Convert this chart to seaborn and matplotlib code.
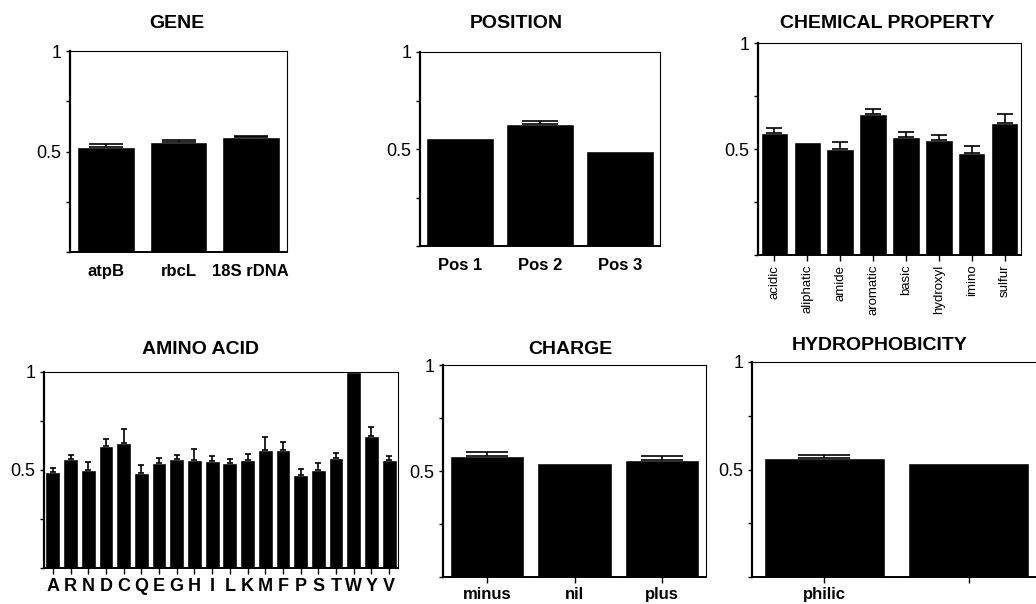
import matplotlib
matplotlib.use("Agg")
import matplotlib.pyplot as plt
import seaborn as sns

# values (bar height, upper error)
gene_names = ["atpB", "rbcL", "18S rDNA"]
gene_vals = [0.524, 0.546, 0.571]
gene_err = [0.012, 0.013, 0.005]

pos_names = ["Pos 1", "Pos 2", "Pos 3"]
pos_vals = [0.559, 0.631, 0.490]
pos_err = [0.0, 0.013, 0.0]

chem_names = ["acidic", "aliphatic", "amide", "aromatic", "basic", "hydroxyl", "imino", "sulfur"]
chem_vals = [0.575, 0.535, 0.501, 0.665, 0.557, 0.542, 0.482, 0.624]
chem_err = [0.026, 0.0, 0.034, 0.025, 0.024, 0.025, 0.030, 0.043]

aa_names = list("ARNDCQEGHILKMFPSTWYV")
aa_vals = [0.492, 0.558, 0.500, 0.624, 0.637, 0.485, 0.537, 0.558, 0.551, 0.544,
           0.537, 0.549, 0.602, 0.603, 0.473, 0.500, 0.559, 1.0, 0.676, 0.551]
aa_err = [0.020, 0.017, 0.039, 0.034, 0.071, 0.042, 0.026, 0.018, 0.056, 0.025,
          0.017, 0.034, 0.064, 0.041, 0.030, 0.034, 0.026, 0.0, 0.041, 0.022]

charge_names = ["minus", "nil", "plus"]
charge_vals = [0.573, 0.539, 0.553]
charge_err = [0.016, 0.0, 0.020]

hydro_names = ["philic", "phobic"]
hydro_labels = ["philic", ""]  # second label is not visible in the figure
hydro_vals = [0.552, 0.530]
hydro_err = [0.017, 0.0]

sns.set_style("white")
plt.rcParams["font.family"] = ["Liberation Sans", "DejaVu Sans"]
plt.rcParams["text.color"] = "black"
plt.rcParams["xtick.color"] = "black"
plt.rcParams["ytick.color"] = "black"
plt.rcParams["axes.labelcolor"] = "black"

W, H = 1036, 604
fig = plt.figure(figsize=(W / 100, H / 100), dpi=100)


def px_axes(l, t, r, b):
    return fig.add_axes([l / W, 1 - b / H, (r - l) / W, (b - t) / H])


def panel(ax, names, vals, errs, width, cap, xticks=True):
    sns.barplot(x=names, y=vals, color="black", saturation=1, width=width,
                errorbar=None, ax=ax)
    xs = [i for i, e in enumerate(errs) if e > 0]
    ax.errorbar(xs, [vals[i] for i in xs],
                yerr=[[0] * len(xs), [errs[i] for i in xs]],
                fmt="none", ecolor="black", elinewidth=1.2, capsize=cap, capthick=1.2)
    ax.set_ylim(0, 1)
    ax.set_xlim(-0.5, len(names) - 0.5)
    ax.set_yticks([0, 0.25, 0.5, 0.75, 1])
    ax.set_yticklabels(["", "", "0.5", "", "1"], fontsize=13)
    ax.set_xlabel("")
    ax.set_ylabel("")
    for s in ax.spines.values():
        s.set_visible(True)
        s.set_color("black")
        s.set_linewidth(0.8)
    ax.spines["left"].set_linewidth(1.6)
    ax.spines["bottom"].set_linewidth(1.4)
    ax.tick_params(axis="y", left=True, direction="out", length=3, width=1, pad=3)
    if xticks:
        ax.tick_params(axis="x", bottom=True, direction="out", length=4, width=1, pad=3)
    else:
        ax.tick_params(axis="x", bottom=False, pad=5)


# GENE
ax = px_axes(70, 51, 287, 252)
panel(ax, gene_names, gene_vals, gene_err, 0.8, 12, xticks=False)
ax.set_xticks(range(3), gene_names, fontsize=12, fontweight="bold")
fig.text(177 / W, 1 - 24 / H, "GENE", ha="center", va="center", fontsize=14, fontweight="bold")

# POSITION
ax = px_axes(420, 52, 660, 246)
panel(ax, pos_names, pos_vals, pos_err, 0.86, 13, xticks=False)
ax.set_xticks(range(3), pos_names, fontsize=12, fontweight="bold")
fig.text(516 / W, 1 - 23 / H, "POSITION", ha="center", va="center", fontsize=14, fontweight="bold")

# CHEMICAL PROPERTY
ax = px_axes(758, 43, 1021, 255)
panel(ax, chem_names, chem_vals, chem_err, 0.84, 6)
ax.set_xticks(range(8), chem_names, rotation=90, fontsize=9.5)
fig.text(887 / W, 1 - 23 / H, "CHEMICAL PROPERTY", ha="center", va="center", fontsize=14, fontweight="bold")

# AMINO ACID
ax = px_axes(44, 372, 398, 568)
panel(ax, aa_names, aa_vals, aa_err, 0.84, 2.2)
ax.set_xticks(range(20), aa_names, fontsize=13, fontweight="bold")
fig.text(200 / W, 1 - 349 / H, "AMINO ACID", ha="center", va="center", fontsize=14, fontweight="bold")

# CHARGE
ax = px_axes(443, 365, 706, 577)
panel(ax, charge_names, charge_vals, charge_err, 0.85, 15)
ax.set_xticks(range(3), charge_names, fontsize=12, fontweight="bold")
fig.text(570 / W, 1 - 349 / H, "CHARGE", ha="center", va="center", fontsize=14, fontweight="bold")

# HYDROPHOBICITY (panel runs past the right edge of the figure)
ax = px_axes(752, 362, 1041, 577)
panel(ax, hydro_names, hydro_vals, hydro_err, 0.84, 19)
ax.set_xticks(range(2), hydro_labels, fontsize=12, fontweight="bold")
fig.text(880 / W, 1 - 346 / H, "HYDROPHOBICITY", ha="center", va="center", fontsize=14, fontweight="bold")

fig.savefig("out.png", dpi=100)
